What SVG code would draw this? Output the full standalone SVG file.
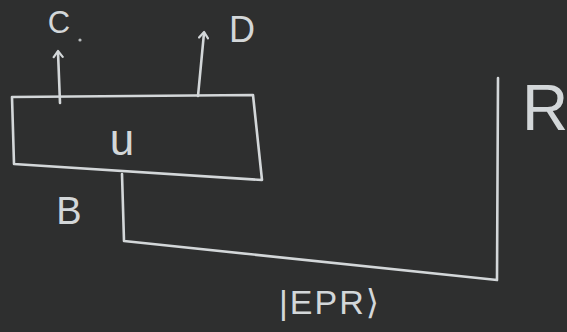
<svg xmlns="http://www.w3.org/2000/svg" width="567" height="332" viewBox="0 0 567 332">
<style>
.chalk{fill:none;stroke:#d3d7d9;stroke-width:2.6;stroke-linecap:round;stroke-linejoin:round}
.lbl{fill:#d3d7d9;font-family:"Liberation Sans","DejaVu Sans",sans-serif}
</style>
<defs>
<marker id="ah" markerWidth="12" markerHeight="12" refX="7" refY="6" orient="auto" markerUnits="userSpaceOnUse">
<path d="M2,1.5 L8,6 L2,10.5" fill="none" stroke="#d3d7d9" stroke-width="2.2" stroke-linecap="round" stroke-linejoin="round"/>
</marker>
</defs>
<rect width="567" height="332" fill="#2e2f2f"/>
<g id="U">
<path class="chalk" d="M12,97 L253,95 L262,180 L14,164 Z"/>
<text class="lbl" x="122" y="155" font-size="44" text-anchor="middle">u</text>
</g>
<g id="C">
<text class="lbl" x="59" y="33" font-size="31" text-anchor="middle">C</text>
<circle cx="80" cy="40" r="1.6" fill="#b8bcbe"/>
</g>
<g id="D">
<text class="lbl" x="242" y="42" font-size="36" text-anchor="middle">D</text>
</g>
<g id="B">
<text class="lbl" x="69" y="224" font-size="38" text-anchor="middle">B</text>
</g>
<g id="R">
<text class="lbl" x="545" y="130" font-size="64" text-anchor="middle">R</text>
</g>
<g id="EPR">
<text class="lbl" x="279" y="314" font-size="34" letter-spacing="2">|EPR⟩</text>
</g>
<g id="connectors">
<path class="chalk" d="M60,103 L58,52" marker-end="url(#ah)"/>
<path class="chalk" d="M198,96 L204,33" marker-end="url(#ah)"/>
<path class="chalk" d="M122,174 L124,241 L497,280 L498,78"/>
</g>
</svg>
